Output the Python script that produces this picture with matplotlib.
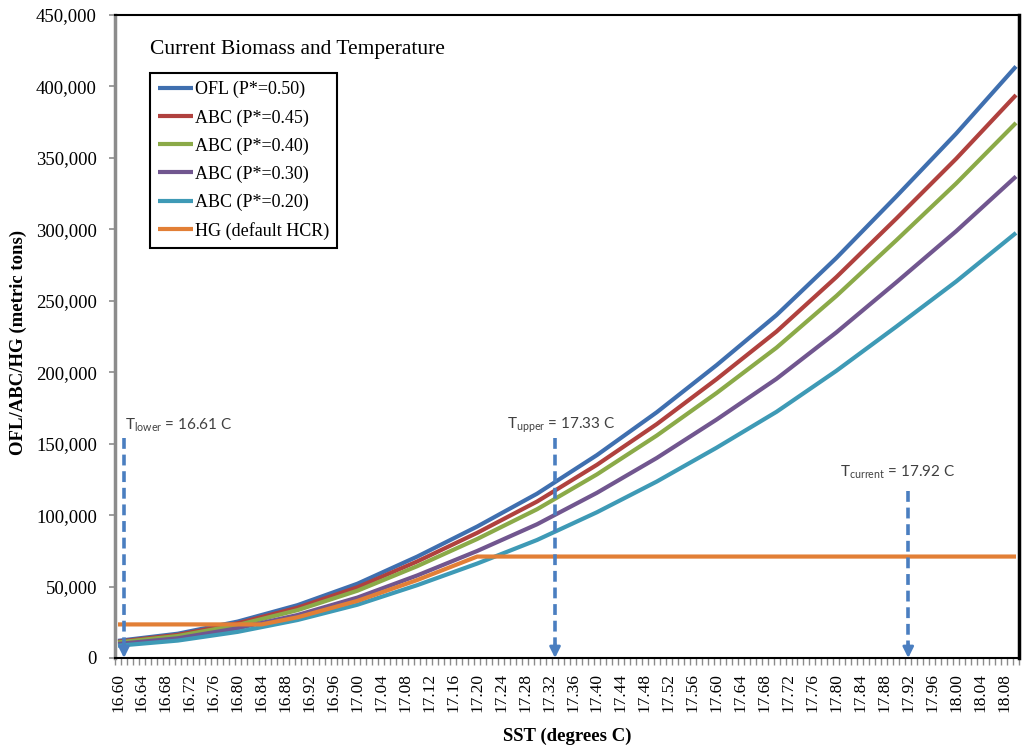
import matplotlib
matplotlib.use("Agg")
import matplotlib.pyplot as plt
import numpy as np

# ---------------- data ----------------
sst = [16.60, 16.70, 16.80, 16.90, 17.00, 17.10, 17.20, 17.30,
       17.40, 17.50, 17.60, 17.70, 17.80, 17.90, 18.00, 18.10]
ofl_050 = [12000, 17000, 25500, 37000, 52000, 71000, 92000, 115000,
           142000, 172000, 205000, 240000, 280000, 323000, 367000, 414000]
abc_045 = [11400, 16200, 24300, 35200, 49500, 67600, 87600, 109500,
           135200, 163700, 195200, 228500, 266600, 307500, 349400, 394000]
abc_040 = [10900, 15400, 23100, 33500, 47100, 64300, 83300, 104100,
           128500, 155700, 185500, 217200, 253400, 292300, 332100, 374500]
abc_030 = [9800, 13800, 20800, 30100, 42300, 57800, 74900, 93600,
           115600, 140000, 166900, 195400, 227900, 262900, 298700, 337000]
abc_020 = [8600, 12200, 18300, 26600, 37300, 51000, 66100, 82600,
           102000, 123500, 147200, 172300, 201000, 231900, 263500, 297500]
hg_sst = [16.60, 16.84, 16.90, 17.00, 17.10, 17.20, 18.10]
hg_default = [23500, 23500, 28500, 40000, 54600, 71000, 71000]

series_labels = ["OFL (P*=0.50)", "ABC (P*=0.45)", "ABC (P*=0.40)",
                 "ABC (P*=0.30)", "ABC (P*=0.20)", "HG (default HCR)"]

markers_t = [16.61, 17.33, 17.92]
marker_names = ["lower", "upper", "current"]
marker_text_pos = [(16.612, 163000), (17.250, 163000), (17.806, 130000)]
marker_arrow_top = [154000, 154000, 117000]

x_min_cat, x_max_cat = 16.60, 18.10
xtick_labels = [f"{v:.2f}" for v in np.round(np.arange(16.60, 18.081, 0.04), 2)]
ytick_vals = list(range(0, 450001, 50000))

# ---------------- style ----------------
colors = ["#3F6FAF", "#B0413E", "#8BAA48", "#71568F", "#3E9AB6", "#E27F36"]
serif = ["Liberation Serif", "DejaVu Serif"]
sans = ["Lato", "DejaVu Sans"]
plt.rcParams["font.family"] = serif
plt.rcParams["mathtext.default"] = "regular"

fig = plt.figure(figsize=(10.24, 7.53), dpi=100)
ax = fig.add_axes([115/1024, 1-658/753, 904/1024, 643/753])

series = [ofl_050, abc_045, abc_040, abc_030, abc_020]
for vals, lab, c in zip(series, series_labels[:5], colors[:5]):
    ax.plot(sst, vals, color=c, lw=3.0, label=lab, solid_capstyle="butt")
ax.plot(hg_sst, hg_default, color=colors[5], lw=3.0, label=series_labels[5],
        solid_capstyle="butt")

ax.set_xlim(x_min_cat - 0.005, x_max_cat + 0.005)
ax.set_ylim(0, 450000)

# x ticks: labels every 0.04, small marks at category boundaries
ax.set_xticks([float(s) for s in xtick_labels])
ax.set_xticklabels(xtick_labels, rotation=90, fontsize=12.5)
ax.tick_params(axis="x", which="major", length=0, pad=11)
ax.set_xticks(np.arange(x_min_cat - 0.005, x_max_cat + 0.006, 0.01), minor=True)
ax.tick_params(axis="x", which="minor", length=5, width=1, color="#8c8c8c",
               direction="out")

ax.set_yticks(ytick_vals)
ax.set_yticklabels([f"{v:,}" for v in ytick_vals], fontsize=13.5)
ax.tick_params(axis="y", which="major", length=4, width=1.2, color="#8c8c8c",
               pad=9)

for s in ["top", "right", "bottom"]:
    ax.spines[s].set_color("black")
ax.spines["top"].set_linewidth(1.5)
ax.spines["bottom"].set_linewidth(1.5)
ax.spines["right"].set_linewidth(2.5)
ax.spines["left"].set_color("#8c8c8c")
ax.spines["left"].set_linewidth(2.5)

ax.set_ylabel("OFL/ABC/HG (metric tons)", fontsize=13.5, fontweight="bold")
ax.yaxis.set_label_coords(-0.097, 0.49)
ax.set_xlabel("SST (degrees C)", fontsize=13.5, fontweight="bold")
ax.xaxis.set_label_coords(0.5, -0.108)

ax.text(0.0387, 0.9456, "Current Biomass and Temperature", transform=ax.transAxes,
        fontsize=15.5, va="center", ha="left")

leg = ax.legend(loc="upper left", bbox_to_anchor=(0.0387, 0.9098),
                prop={"size": 13}, frameon=True, fancybox=False,
                edgecolor="black", framealpha=1, borderpad=0.45,
                labelspacing=0.6, handlelength=1.95, handletextpad=0.1,
                borderaxespad=0)
leg.get_frame().set_linewidth(1.5)

# temperature markers
arrow_c = "#4A7EC0"
for t, name, (tx, ty), top in zip(markers_t, marker_names, marker_text_pos,
                                  marker_arrow_top):
    ax.plot([t, t], [top, 9000], color=arrow_c, lw=2.6, ls=(0, (3, 1.6)))
    ax.annotate("", xy=(t, 0), xytext=(t, 10000),
                arrowprops=dict(arrowstyle="-|>", color=arrow_c, lw=2.0,
                                mutation_scale=16, shrinkA=0, shrinkB=0))
    ax.text(tx, ty, "T$_{%s}$ = %.2f C" % (name, t), family=sans, fontsize=11,
            color="#404040", va="center", ha="left")

fig.savefig("out.png", dpi=100)
